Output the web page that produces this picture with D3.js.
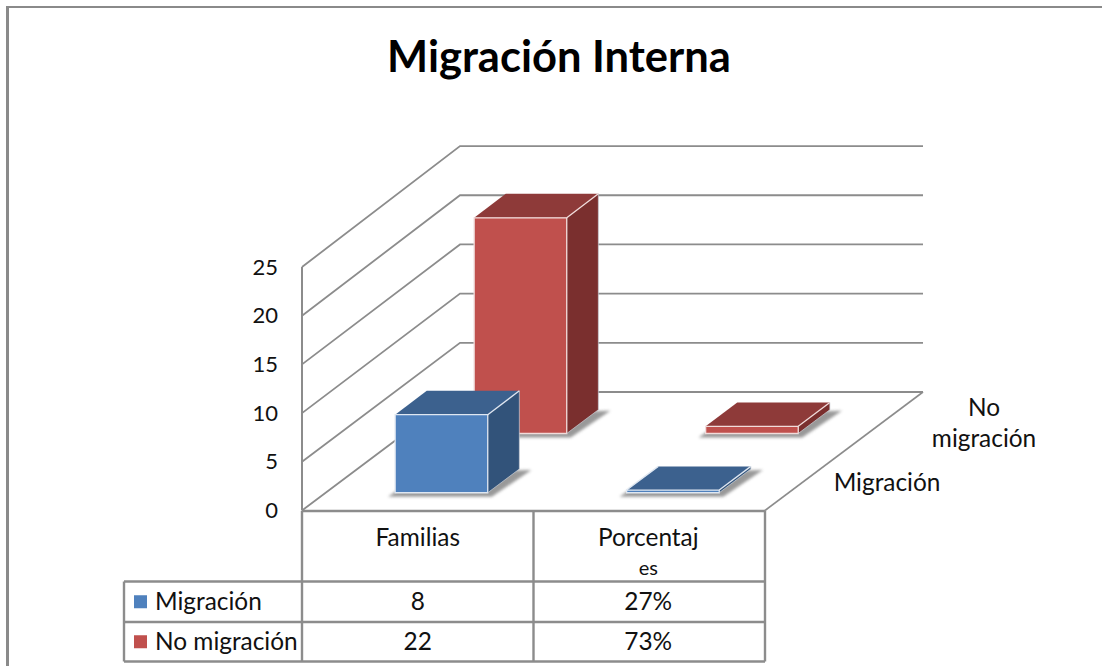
<!DOCTYPE html>
<html><head><meta charset="utf-8">
<script src="https://cdn.jsdelivr.net/npm/d3@7"></script>
<style>
html,body{margin:0;padding:0;background:#fff}
svg{display:block}
text{font-family:Lato,"Open Sans",sans-serif;fill:#111}
</style></head><body>
<svg id="c" width="1102" height="666"></svg>
<script>
const chartTitle = "Migración Interna";
const categories = ["Familias", "Porcentajes"];
const seriesNames = ["Migración", "No migración"];
const migracion = [8, 0.27];
const noMigracion = [22, 0.73];
const yTicks = [0, 5, 10, 15, 20, 25];
const tableHead = [["Porcentaj", "es"]];
const frontColors = ["#4f81bd", "#c0504d"];
const topColors = ["#3c618e", "#8e3a39"];
const sideColors = ["#32537a", "#7a2f2e"];
const gridColor = "#8c8c8c";

const seriesValues = [migracion, noMigracion];
const fmtCell = (v, j) => j === 0 ? d3.format("d")(v) : d3.format(".0%")(v);

const svg = d3.select("#c");
const defs = svg.append("defs");
defs.append("filter").attr("id", "sh").attr("x", "-30%").attr("y", "-30%").attr("width", "160%").attr("height", "160%")
  .append("feGaussianBlur").attr("stdDeviation", 1.6);

const xScale = d3.scaleBand().domain(categories).range([302, 765]).paddingInner(0.6).paddingOuter(0.3);
const depthBand = d3.scaleBand().domain(seriesNames).range([0, 1]).paddingInner(0.6).paddingOuter(0.3);
const yScale = d3.scaleLinear().domain([0, 25]).range([510.5, 267]);
const depthX = d3.scaleLinear().domain([0, 1]).range([0, 158]);
const depthY = d3.scaleLinear().domain([0, 1]).range([0, -118.5]);
const depthStretch = d3.scaleLinear().domain([0, 1]).range([1, 1.01]);
const xLeft = xScale.range()[0], xRight = xScale.range()[1];
const pt = (x, t, v) => [x + depthX(t), yScale(0) + (yScale(v) - yScale(0)) * depthStretch(t) + depthY(t)];
const line = d3.line();

// frame
svg.append("path").attr("d", line([[7.5, 666], [7.5, 6]])).attr("fill", "none").attr("stroke", "#8a8a8a").attr("stroke-width", 3);
svg.append("path").attr("d", line([[6, 7], [1102, 7]])).attr("fill", "none").attr("stroke", "#8a8a8a").attr("stroke-width", 2);

// title
svg.append("text").attr("x", 559).attr("y", 72).attr("text-anchor", "middle")
  .attr("font-size", 43.5).attr("font-weight", 700).style("fill", "#000").text(chartTitle);

// walls and floor
const grid = svg.append("g").attr("fill", "none").attr("stroke", gridColor);
grid.selectAll("path.g").data(yTicks).join("path").attr("class", "g")
  .attr("stroke-width", 1.8)
  .attr("d", d => line([pt(xLeft, 0, d), pt(xLeft, 1, d), pt(xRight, 1, d)]));
grid.append("path").attr("stroke-width", 1.6).attr("d", line([pt(xRight, 1, 0), pt(xRight, 0, 0)]));
grid.append("path").attr("stroke-width", 2).attr("d", line([pt(xLeft, 0, 25), pt(xLeft, 0, 0)]));

// y axis
const yAxis = d3.axisLeft(yScale).tickValues(yTicks).tickSize(0).tickPadding(6);
const ax = svg.append("g").attr("transform", "translate(284,0)").call(yAxis);
ax.select(".domain").remove();
ax.selectAll("text").attr("font-size", 22).style("font-family", "Lato").style("fill", "#111");

// bars, back series first
const order = d3.range(seriesNames.length).reverse();
order.forEach(si => {
  const s = seriesNames[si];
  const t0 = depthBand(s), t1 = t0 + depthBand.bandwidth();
  categories.forEach((c, ci) => {
    const x0 = xScale(c), x1 = x0 + xScale.bandwidth();
    const v = seriesValues[si][ci];
    const g = svg.append("g");
    // soft floor shadow
    const shadow = [pt(x0, t0, 0), pt(x1, t0, 0), pt(x1, t1, 0), pt(x0, t1, 0)]
      .map(p => [p[0] + 1, p[1] + 4]);
    shadow[0][0] -= 8; shadow[1][0] += 3; shadow[2][0] += 11; shadow[2][1] -= 3; shadow[3][0] -= 6;
    g.append("path").attr("d", line(shadow) + "Z").attr("fill", "#777").attr("opacity", .75).attr("filter", "url(#sh)");
    const edge = si === 0 ? "#dfe7f1" : "#f1dcdb";
    // top
    g.append("path").attr("d", line([pt(x0, t0, v), pt(x1, t0, v), pt(x1, t1, v), pt(x0, t1, v)]) + "Z")
      .attr("fill", topColors[si]);
    // side
    g.append("path").attr("d", line([pt(x1, t0, 0), pt(x1, t1, 0), pt(x1, t1, v), pt(x1, t0, v)]) + "Z")
      .attr("fill", sideColors[si]);
    // front
    g.append("path").attr("d", line([pt(x0, t0, 0), pt(x1, t0, 0), pt(x1, t0, v), pt(x0, t0, v)]) + "Z")
      .attr("fill", frontColors[si]).attr("stroke", edge).attr("stroke-width", 1.3);
    // light edges
    g.append("path").attr("d", line([pt(x1, t0, v), pt(x1, t1, v)]))
      .attr("fill", "none").attr("stroke", edge).attr("stroke-width", 1.3);
    g.append("path").attr("d", line([pt(x1, t1, v), pt(x1, t1, 0), pt(x1, t0, 0)]))
      .attr("fill", "none").attr("stroke", "#c9ced6").attr("stroke-width", 1).attr("opacity", .7);
    if (v < 1 && si === 0) {
      g.append("path").attr("d", line([pt(x0, t0, v), pt(x0, t1, v)]))
        .attr("fill", "none").attr("stroke", edge).attr("stroke-width", 1.3);
    }
  });
});

// depth labels
const depthLabels = [
  {lines: ["No", "migración"], xs: 984, ys: [407, 438]},
  {lines: ["Migración"], xs: 887, ys: [482]}
];
const bodySize = 24.4;
depthLabels.forEach(l => l.lines.forEach((t, i) => {
  svg.append("text").attr("x", l.xs).attr("y", l.ys[i]).attr("dy", "0.35em")
    .attr("text-anchor", "middle").attr("font-size", bodySize).text(t);
}));

// data table
const colX = [xLeft, (xLeft + xRight) / 2, xRight];
const rowY = [511, 581.5, 622, 661.5];
const legendLeft = 124;
const tb = svg.append("g").attr("stroke", gridColor).attr("stroke-width", 2.4).attr("fill", "none");
tb.append("path").attr("d", line([[colX[0], rowY[0]], [colX[2], rowY[0]]]));
rowY.slice(1).forEach(y => tb.append("path").attr("d", line([[legendLeft, y], [colX[2], y]])));
colX.forEach(x => tb.append("path").attr("d", line([[x, rowY[0]], [x, rowY[3]]])));
tb.append("path").attr("d", line([[legendLeft, rowY[1]], [legendLeft, rowY[3]]]));

const cx = [(colX[0] + colX[1]) / 2, (colX[1] + colX[2]) / 2 - 1];
svg.append("text").attr("x", cx[0]).attr("y", 537).attr("dy", "0.35em").attr("text-anchor", "middle")
  .attr("font-size", bodySize).text(categories[0]);
svg.append("text").attr("x", cx[1]).attr("y", 537).attr("dy", "0.35em").attr("text-anchor", "middle")
  .attr("font-size", bodySize).text(tableHead[0][0]);
svg.append("text").attr("x", cx[1]).attr("y", 568).attr("dy", "0.35em").attr("text-anchor", "middle")
  .attr("font-size", 20).text(tableHead[0][1]);

seriesNames.forEach((s, i) => {
  const yc = (rowY[i + 1] + rowY[i + 2]) / 2;
  svg.append("rect").attr("x", 134).attr("y", yc - 6.5).attr("width", 13).attr("height", 13).attr("fill", frontColors[i]);
  svg.append("text").attr("x", 155).attr("y", yc).attr("dy", "0.35em").attr("font-size", bodySize).text(s);
  seriesValues[i].forEach((v, j) => {
    svg.append("text").attr("x", cx[j]).attr("y", yc).attr("dy", "0.35em").attr("text-anchor", "middle")
      .attr("font-size", bodySize).text(fmtCell(v, j));
  });
});
</script>
</body></html>
